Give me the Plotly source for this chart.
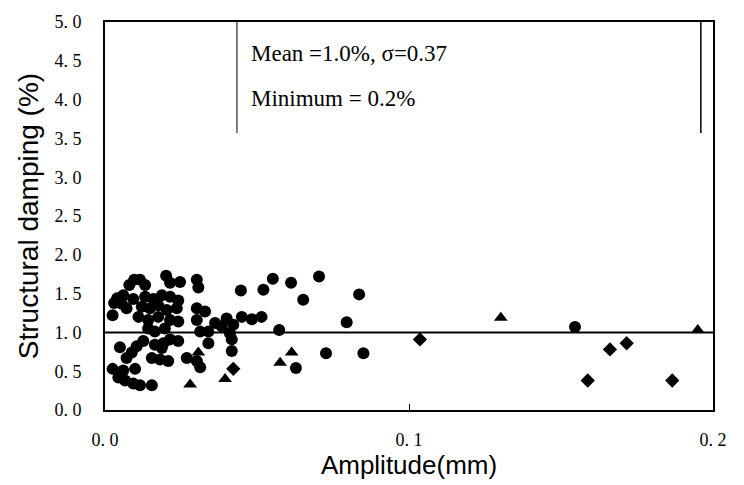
import plotly.graph_objects as go

# ---- data (amplitude in mm, structural damping in %) ----
circle_x = [0.0080, 0.0096, 0.0115, 0.0132, 0.0201, 0.0214, 0.0247, 0.0302, 0.0307, 0.0447,
            0.0060, 0.0055, 0.0071, 0.0025, 0.0093, 0.0132, 0.0159, 0.0187, 0.0214, 0.0241,
            0.0121, 0.0148, 0.0175, 0.0203, 0.0236, 0.0110, 0.0142, 0.0175, 0.0214, 0.0241,
            0.0302, 0.0329, 0.0302, 0.0400, 0.0450, 0.0362, 0.0384, 0.0422, 0.0142, 0.0164,
            0.0197, 0.0313, 0.0340, 0.0411, 0.0417, 0.0214, 0.0241, 0.0192, 0.0126, 0.0104,
            0.0049, 0.0164, 0.0340, 0.0088, 0.0187, 0.0071, 0.0154, 0.0181, 0.0208, 0.0269,
            0.0302, 0.0313, 0.0417, 0.0025, 0.0060, 0.0099, 0.0044, 0.0066, 0.0093, 0.0115,
            0.0154, 0.0521, 0.0552, 0.0612, 0.0704, 0.0652, 0.0836, 0.0483, 0.0515, 0.0573,
            0.0795, 0.0727, 0.0850, 0.0628, 0.1546, 0.0030, 0.0040]
circle_y = [1.61, 1.68, 1.68, 1.61, 1.73, 1.64, 1.65, 1.68, 1.58, 1.54,
            1.48, 1.37, 1.31, 1.22, 1.43, 1.46, 1.43, 1.48, 1.46, 1.41,
            1.33, 1.31, 1.35, 1.29, 1.31, 1.20, 1.16, 1.20, 1.16, 1.14,
            1.31, 1.27, 1.16, 1.18, 1.20, 1.12, 1.08, 1.10, 1.05, 1.01,
            1.05, 1.01, 1.01, 0.99, 0.91, 0.91, 0.89, 0.86, 0.89, 0.82,
            0.81, 0.84, 0.86, 0.74, 0.80, 0.67, 0.67, 0.65, 0.63, 0.67,
            0.63, 0.55, 0.76, 0.53, 0.51, 0.53, 0.42, 0.38, 0.34, 0.32,
            0.32, 1.55, 1.69, 1.64, 1.72, 1.42, 1.49, 1.17, 1.20, 1.03,
            1.13, 0.73, 0.73, 0.54, 1.07, 1.38, 1.44]

triangle_x = [0.0307, 0.0280, 0.0395, 0.0614, 0.0576, 0.1302, 0.1950]
triangle_y = [0.74, 0.33, 0.40, 0.74, 0.61, 1.19, 1.03]

diamond_x = [0.0422, 0.1036, 0.1661, 0.1716, 0.1588, 0.1866]
diamond_y = [0.53, 0.91, 0.78, 0.86, 0.38, 0.38]

mean_damping = 1.0
x_ticks = [0.0, 0.1, 0.2]
x_tick_text = ["0. 0", "0. 1", "0. 2"]
y_ticks = [0.0, 0.5, 1.0, 1.5, 2.0, 2.5, 3.0, 3.5, 4.0, 4.5, 5.0]
y_tick_text = ["0. 0", "0. 5", "1. 0", "1. 5", "2. 0", "2. 5", "3. 0", "3. 5", "4. 0", "4. 5", "5. 0"]

fig = go.Figure()
fig.add_trace(go.Scatter(x=circle_x, y=circle_y, mode="markers",
                         marker=dict(symbol="circle", size=12, color="black"), showlegend=False))
fig.add_trace(go.Scatter(x=triangle_x, y=triangle_y, mode="markers",
                         marker=dict(symbol="triangle-up", size=12, color="black"), showlegend=False))
fig.add_trace(go.Scatter(x=diamond_x, y=diamond_y, mode="markers",
                         marker=dict(symbol="diamond", size=11, color="black"), showlegend=False))

# mean line
fig.add_shape(type="line", xref="paper", yref="y", x0=0, x1=1, y0=mean_damping, y1=mean_damping,
              line=dict(color="black", width=2))
# text box side borders
fig.add_shape(type="line", xref="x", yref="y", x0=0.0434, x1=0.0434, y0=3.57, y1=5.0,
              line=dict(color="black", width=1))
fig.add_shape(type="line", xref="x", yref="y", x0=0.196, x1=0.196, y0=3.57, y1=5.0,
              line=dict(color="black", width=1.5))

fig.add_annotation(x=0.0475, y=4.59, xref="x", yref="y", xanchor="left", yanchor="middle",
                   text="Mean =1.0%, σ=0.37", showarrow=False,
                   font=dict(family="Liberation Serif", size=23, color="black"))
fig.add_annotation(x=0.0475, y=4.01, xref="x", yref="y", xanchor="left", yanchor="middle",
                   text="Minimum = 0.2%", showarrow=False,
                   font=dict(family="Liberation Serif", size=23, color="black"))

fig.update_layout(
    width=744, height=485,
    margin=dict(l=105, r=31, t=15, b=75),
    plot_bgcolor="white", paper_bgcolor="white",
    xaxis=dict(range=[0, 0.2], tickvals=x_ticks, ticktext=x_tick_text,
               showgrid=False, zeroline=False, showline=True, linecolor="black", linewidth=2,
               mirror=True, ticks="inside", ticklen=6, tickcolor="black",
               ticklabelstandoff=12,
               tickfont=dict(family="Liberation Serif", size=18, color="black"),
               title=dict(text="Amplitude(mm)", standoff=4,
                          font=dict(family="Liberation Sans", size=26, color="black"))),
    yaxis=dict(range=[0, 5], tickvals=y_ticks, ticktext=y_tick_text,
               showgrid=False, zeroline=False, showline=True, linecolor="black", linewidth=2,
               mirror=True, ticks="", ticklabelstandoff=18,
               tickfont=dict(family="Liberation Serif", size=18, color="black"),
               title=dict(text="Structural damping (%)", standoff=8,
                          font=dict(family="Liberation Sans", size=28, color="black"))),
)

fig.write_html("out.html", config={"displayModeBar": False},
               post_script="document.body.style.margin='0';")
